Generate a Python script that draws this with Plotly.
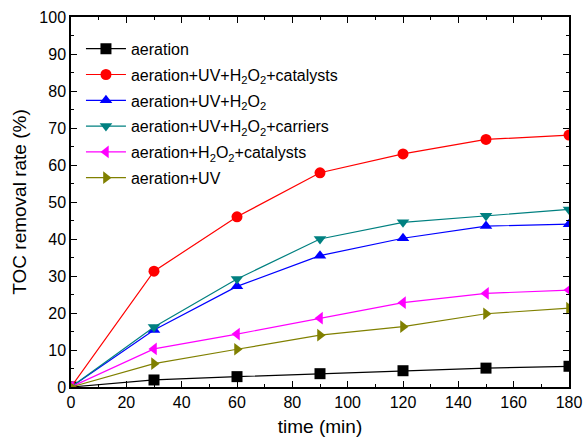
import plotly.graph_objects as go

time = [0, 30, 60, 90, 120, 150, 180]
aeration = [0, 1.9, 2.8, 3.6, 4.4, 5.1, 5.6]
uv_h2o2_cat = [0, 31.3, 46.0, 57.9, 63.0, 66.9, 68.1]
uv_h2o2 = [0, 15.4, 27.2, 35.5, 40.2, 43.5, 44.0]
uv_h2o2_car = [0, 16.2, 29.2, 40.0, 44.5, 46.3, 48.0]
h2o2_cat = [0, 10.3, 14.3, 18.6, 22.8, 25.3, 26.2]
uv = [0, 6.3, 10.2, 14.0, 16.3, 19.8, 21.3]

series = [
    ("aeration", aeration, "#000000", "square"),
    ("aeration+UV+H<sub>2</sub>O<sub>2</sub>+catalysts", uv_h2o2_cat, "#FF0000", "circle"),
    ("aeration+UV+H<sub>2</sub>O<sub>2</sub>", uv_h2o2, "#0000FF", "triangle-up"),
    ("aeration+UV+H<sub>2</sub>O<sub>2</sub>+carriers", uv_h2o2_car, "#008080", "triangle-down"),
    ("aeration+H<sub>2</sub>O<sub>2</sub>+catalysts", h2o2_cat, "#FF00FF", "triangle-left"),
    ("aeration+UV", uv, "#808000", "triangle-right"),
]

FONT = "Arial"

fig = go.Figure()
for i, (name, vals, color, sym) in enumerate(series):
    fig.add_trace(go.Scatter(
        x=time, y=vals, name=name, mode="lines+markers",
        legendgroup=f"g{i}",
        line=dict(color=color, width=1.2),
        marker=dict(symbol=sym, size=11, color=color),
    ))

axis_common = dict(
    showline=True, linecolor="black", linewidth=1.5, mirror="ticks",
    ticks="inside", ticklen=6, tickwidth=1.2, tickcolor="black",
    showgrid=False, zeroline=False, automargin=False,
    tickfont=dict(family=FONT, size=16, color="black"),
)

fig.update_xaxes(
    range=[0, 180], dtick=20, tick0=0,
    minor=dict(ticks="inside", ticklen=3, dtick=10, tickcolor="black", tickwidth=1),
    title=dict(text="time (min)", font=dict(family=FONT, size=19, color="black"), standoff=10),
    **axis_common,
)
fig.update_yaxes(
    range=[0, 100], dtick=10, tick0=0,
    minor=dict(ticks="inside", ticklen=3, dtick=5, tickcolor="black", tickwidth=1),
    title=dict(text="TOC removal rate (%)", font=dict(family=FONT, size=19, color="black"), standoff=8),
    **axis_common,
)

fig.update_layout(
    width=584, height=439,
    margin=dict(l=71, r=15, t=17, b=52),
    plot_bgcolor="white", paper_bgcolor="white",
    legend=dict(
        x=0.02, y=0.96, xanchor="left", yanchor="top",
        bgcolor="rgba(0,0,0,0)",
        font=dict(family=FONT, size=16, color="black"),
        itemwidth=40, tracegroupgap=2,
    ),
    showlegend=True,
)

fig.write_html("out.html")
